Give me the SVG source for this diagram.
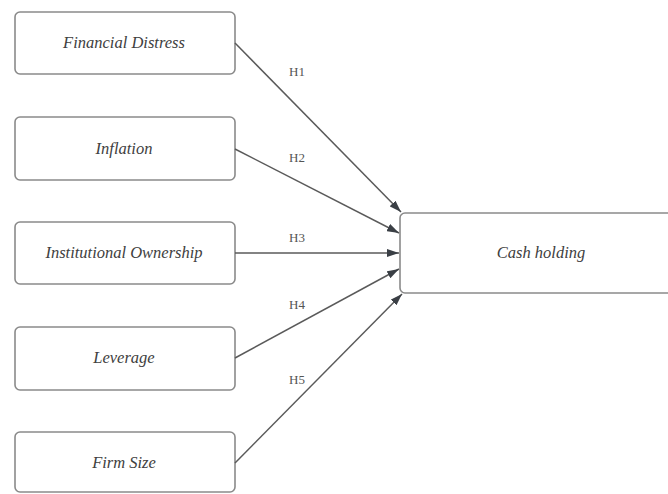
<svg xmlns="http://www.w3.org/2000/svg" width="668" height="494" viewBox="0 0 668 494">
<defs>
<style>
.box{fill:#fff;stroke:#8a8a8a;stroke-width:1.6}
.lbl{font-family:"Liberation Serif","DejaVu Serif",serif;font-style:italic;font-size:16.5px;fill:#404040;text-anchor:middle}
.h{font-family:"Liberation Serif","DejaVu Serif",serif;font-size:13px;fill:#555;text-anchor:middle}
.edge{stroke:#5a5a5a;stroke-width:1.5;fill:none;marker-end:url(#ah)}
</style>
<marker id="ah" viewBox="0 0 12 8" refX="12" refY="4" markerWidth="12" markerHeight="8" markerUnits="userSpaceOnUse" orient="auto">
<path d="M0,0 L12,4 L0,8 z" fill="#3a3f45"/>
</marker>
</defs>
<rect width="668" height="494" fill="#fff"/>
<g id="n1"><rect class="box" x="15" y="12" width="220" height="62" rx="5"/><text class="lbl" x="124" y="48">Financial Distress</text></g>
<g id="n2"><rect class="box" x="15" y="117" width="220" height="63" rx="5"/><text class="lbl" x="124" y="154">Inflation</text></g>
<g id="n3"><rect class="box" x="15" y="222" width="220" height="62" rx="5"/><text class="lbl" x="124" y="258">Institutional Ownership</text></g>
<g id="n4"><rect class="box" x="15" y="327" width="220" height="63" rx="5"/><text class="lbl" x="124" y="363">Leverage</text></g>
<g id="n5"><rect class="box" x="15" y="432" width="220" height="60" rx="5"/><text class="lbl" x="124" y="468">Firm Size</text></g>
<g id="n6"><rect class="box" x="400" y="213" width="290" height="80" rx="5"/><text class="lbl" x="541" y="258">Cash holding</text></g>
<g id="edges">
<line class="edge" x1="235" y1="43" x2="401" y2="212"/>
<line class="edge" x1="235" y1="149" x2="399" y2="233"/>
<line class="edge" x1="235" y1="253" x2="399" y2="253"/>
<line class="edge" x1="235" y1="358" x2="399" y2="269"/>
<line class="edge" x1="235" y1="463" x2="402" y2="294"/>
<text class="h" x="297" y="76">H1</text>
<text class="h" x="297" y="162">H2</text>
<text class="h" x="297" y="242">H3</text>
<text class="h" x="297" y="309">H4</text>
<text class="h" x="297" y="384">H5</text>
</g>
</svg>
